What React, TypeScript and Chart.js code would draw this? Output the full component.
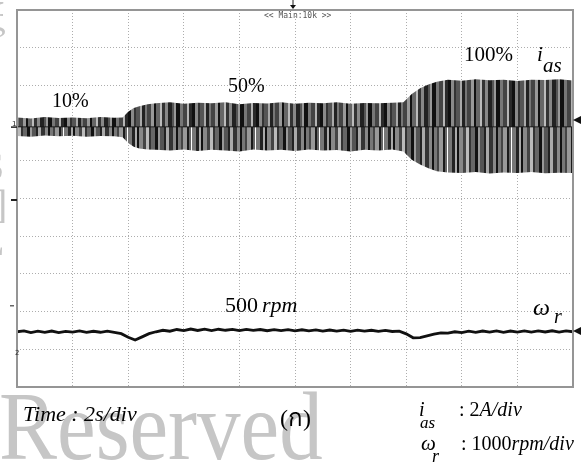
import React, { useEffect, useRef } from 'react';
import { Chart, registerables } from 'chart.js';

Chart.register(...registerables);

// ---- data ----
// time axis: 2 s/div, 10 divisions
const TIME_S = [
  0, 0.5, 1, 1.5, 2, 2.5, 3, 3.5, 3.8, 4.0, 4.2, 4.4, 4.7, 5.0,
  5.5, 6, 6.5, 7, 7.5, 8, 8.5, 9, 9.5, 10, 10.5, 11, 11.5, 12, 12.5, 13, 13.5,
  13.9, 14.2, 14.5, 14.8, 15.1, 15.5,
  16, 16.5, 17, 17.5, 18, 18.5, 19, 19.5, 20,
];
// phase current i_as envelope (A), 2 A/div
const IAS_UPPER_A = [
  0.5, 0.45, 0.52, 0.47, 0.5, 0.46, 0.52, 0.48, 0.5, 0.8, 1.0, 1.1, 1.2, 1.25,
  1.3, 1.22, 1.28, 1.25, 1.3, 1.2, 1.27, 1.24, 1.3, 1.22, 1.28, 1.25, 1.3, 1.23, 1.27, 1.25, 1.28,
  1.3, 1.75, 2.05, 2.25, 2.4, 2.5,
  2.45, 2.52, 2.47, 2.5, 2.44, 2.5, 2.48, 2.52, 2.46,
];
const IAS_LOWER_A = [
  -0.48, -0.52, -0.46, -0.5, -0.47, -0.53, -0.48, -0.5, -0.55, -0.85, -1.05, -1.15, -1.2, -1.22,
  -1.25, -1.2, -1.28, -1.22, -1.25, -1.3, -1.2, -1.25, -1.22, -1.28, -1.2, -1.26, -1.23, -1.3, -1.22, -1.25, -1.2,
  -1.3, -1.75, -2.0, -2.2, -2.35, -2.42,
  -2.45, -2.4, -2.47, -2.42, -2.45, -2.4, -2.46, -2.43, -2.45,
];
// rotor speed ω_r (rpm), 1000 rpm/div
const SPEED_TIME_S = [
  0, 0.25, 0.5, 0.75, 1, 1.25, 1.5, 1.75, 2, 2.25, 2.5, 2.75, 3, 3.25, 3.5, 3.75,
  4, 4.25, 4.5, 4.75, 5, 5.25, 5.5, 5.75, 6, 6.25, 6.5, 6.75, 7, 7.25, 7.5, 7.75,
  8, 8.25, 8.5, 8.75, 9, 9.25, 9.5, 9.75, 10, 10.25, 10.5, 10.75, 11, 11.25, 11.5, 11.75,
  12, 12.25, 12.5, 12.75, 13, 13.25, 13.5, 13.75, 14, 14.25, 14.5, 14.75, 15, 15.25, 15.5, 15.75,
  16, 16.25, 16.5, 16.75, 17, 17.25, 17.5, 17.75, 18, 18.25, 18.5, 18.75, 19, 19.25, 19.5, 19.75, 20,
];
const SPEED_RPM = [
  505, 530, 485, 520, 490, 525, 482, 515, 498, 528, 488, 518, 492, 522, 490, 455,
  360, 285, 370, 455, 505, 545, 520, 565, 535, 578, 540, 575, 538, 572, 545, 570,
  535, 568, 540, 565, 532, 562, 535, 560, 528, 558, 530, 555, 522, 552, 525, 550,
  518, 548, 520, 545, 515, 540, 512, 520, 450, 345, 350, 395, 440, 478, 470, 505,
  485, 520, 490, 525, 495, 528, 492, 525, 498, 530, 495, 528, 500, 532, 498, 530, 505,
];

// scope settings
const DIVS = 10;
const SEC_PER_DIV = 2;
const CH1_A_PER_DIV = 2;
const CH1_GROUND_DIV = 6.9; // divisions above the bottom of the screen
const CH2_RPM_PER_DIV = 1000;
const CH2_GROUND_DIV = 0.96;

const SERIF = '"Liberation Serif", "Times New Roman", serif';
const R = (s: number) => `${s}px ${SERIF}`;
const I = (s: number) => `italic ${s}px ${SERIF}`;

const W = 581;
const H = 463;

function runs(ctx: CanvasRenderingContext2D, x: number, y: number, parts: [string, string][]) {
  let cx = x;
  for (const [t, f] of parts) {
    ctx.font = f;
    ctx.fillText(t, cx, y);
    cx += ctx.measureText(t).width;
  }
}

function makePattern(splitY: number): CanvasPattern | string {
  const topStripes: [number, string][] = [
    [3, '#111'], [3, '#8a8a8a'], [2, '#333'], [4, '#555'], [2, '#aaa'], [3, '#222'], [2, '#777'], [4, '#444'],
    [3, '#999'], [2, '#111'], [4, '#666'], [2, '#bbb'], [3, '#333'], [3, '#888'], [4, '#222'], [2, '#555'],
    [2, '#999'], [4, '#111'], [3, '#777'], [4, '#444'], [2, '#b5b5b5'], [3, '#2a2a2a'],
  ];
  const botStripes: [number, string][] = [
    [4, '#777'], [3, '#222'], [2, '#aaa'], [2, '#111'], [4, '#888'], [3, '#444'], [3, '#bbb'], [2, '#333'],
    [4, '#666'], [3, '#111'], [2, '#999'], [4, '#555'], [2, '#222'], [3, '#aaa'], [4, '#333'], [3, '#888'],
    [2, '#111'], [3, '#777'], [2, '#444'], [4, '#999'], [2, '#1a1a1a'], [2, '#666'],
  ];
  const pw = topStripes.reduce((s, p) => s + p[0], 0);
  const c = document.createElement('canvas');
  c.width = pw;
  c.height = H;
  const g = c.getContext('2d');
  if (!g) return '#555';
  let x = 0;
  for (const [w, col] of topStripes) {
    g.fillStyle = col;
    g.fillRect(x, 0, w, splitY);
    x += w;
  }
  x = 0;
  for (const [w, col] of botStripes) {
    g.fillStyle = col;
    g.fillRect(x, splitY, w, H - splitY);
    x += w;
  }
  g.fillStyle = 'rgba(20,20,20,0.6)';
  g.fillRect(0, splitY - 1, pw, 1.5);
  const p = g.createPattern(c, 'repeat');
  return p || '#555';
}

export default function App() {
  const ref = useRef<HTMLCanvasElement | null>(null);

  useEffect(() => {
    const canvas = ref.current;
    if (!canvas) return;
    const area = { left: 17, top: 10, right: 573, bottom: 387 };
    const pxPerDiv = (area.bottom - area.top) / DIVS;
    const splitY = Math.round(area.bottom - CH1_GROUND_DIV * pxPerDiv);
    const pattern = makePattern(splitY);

    const upper = TIME_S.map((t, i) => ({ x: t, y: IAS_UPPER_A[i] }));
    const lower = TIME_S.map((t, i) => ({ x: t, y: IAS_LOWER_A[i] }));
    const speed = SPEED_TIME_S.map((t, i) => ({ x: t, y: SPEED_RPM[i] }));

    const decor = {
      id: 'scopeDecor',
      beforeDraw(chart: any) {
        const ctx = chart.ctx as CanvasRenderingContext2D;
        ctx.save();
        ctx.fillStyle = '#fff';
        ctx.fillRect(0, 0, W, H);
        // watermark
        ctx.fillStyle = '#c6c6c6';
        ctx.translate(0, 459);
        ctx.scale(1, 1.12);
        ctx.font = R(87);
        ctx.textBaseline = 'alphabetic';
        ctx.fillText('Reserved', -1, 0);
        ctx.restore();
        ctx.save();
        ctx.fillStyle = '#c6c6c6';
        ctx.font = R(40);
        ctx.fillText('ξ', -12, 30);
        ctx.fillText('S', -18, 180);
        ctx.fillText(']', -6, 218);
        ctx.fillText('L', -20, 255);
        ctx.restore();
      },
      afterDraw(chart: any) {
        const ctx = chart.ctx as CanvasRenderingContext2D;
        const ca = chart.chartArea;
        ctx.save();
        // frame
        ctx.strokeStyle = '#959595';
        ctx.lineWidth = 2;
        ctx.strokeRect(ca.left, ca.top, ca.right - ca.left, ca.bottom - ca.top);

        // scope markers
        ctx.fillStyle = '#111';
        ctx.strokeStyle = '#222';
        ctx.lineWidth = 1;
        ctx.beginPath();
        ctx.moveTo(293, 0);
        ctx.lineTo(293, 8);
        ctx.stroke();
        ctx.beginPath();
        ctx.moveTo(290, 5);
        ctx.lineTo(296, 5);
        ctx.lineTo(293, 9);
        ctx.closePath();
        ctx.fill();
        ctx.font = '8px "DejaVu Sans Mono", monospace';
        ctx.fillStyle = '#555';
        ctx.fillText('<< Main:10k >>', 264, 18);

        const ch1Y = ca.bottom - CH1_GROUND_DIV * pxPerDiv;
        const ch2Y = ca.bottom - CH2_GROUND_DIV * pxPerDiv;
        ctx.fillStyle = '#222';
        ctx.fillRect(11, ch1Y - 0.5, 6, 1.5);
        ctx.font = '7px "DejaVu Sans", sans-serif';
        ctx.fillText('1', 12, ch1Y - 1);
        ctx.fillRect(11, 199, 6, 2);
        ctx.fillStyle = '#666';
        ctx.fillRect(10, 305, 4, 1.5);
        ctx.fillStyle = '#333';
        ctx.fillText('2', 15, ch2Y + 4);
        // right-hand level markers
        ctx.fillStyle = '#111';
        for (const yy of [120, 331]) {
          ctx.beginPath();
          ctx.moveTo(573, yy);
          ctx.lineTo(581, yy - 4);
          ctx.lineTo(581, yy + 4);
          ctx.closePath();
          ctx.fill();
        }

        // annotations
        ctx.fillStyle = '#000';
        ctx.textBaseline = 'alphabetic';
        runs(ctx, 52, 107, [['10%', R(20)]]);
        runs(ctx, 228, 92, [['50%', R(20)]]);
        runs(ctx, 464, 61, [['100%', R(21)]]);
        runs(ctx, 537, 61, [['i', I(21)]]);
        runs(ctx, 543, 72, [['as', I(21)]]);
        runs(ctx, 225, 312, [['500', R(22)]]);
        runs(ctx, 262, 312, [['rpm', I(22)]]);
        runs(ctx, 533, 315, [['ω', I(24)]]);
        runs(ctx, 554, 323, [['r', I(20)]]);

        runs(ctx, 23, 421, [['Time : 2s/div', I(22)]]);
        runs(ctx, 280, 426, [['(ก)', `24px ${SERIF}, "Noto Sans", "DejaVu Sans", sans-serif`]]);

        runs(ctx, 419, 416, [['i', I(20)]]);
        runs(ctx, 420, 428, [['as', I(17)]]);
        runs(ctx, 459, 416, [[': ', R(20)], ['2', R(20)], ['A/div', I(20)]]);
        runs(ctx, 421, 450, [['ω', I(21)]]);
        runs(ctx, 432, 462, [['r', I(18)]]);
        runs(ctx, 461, 450, [[': ', R(20)], ['1000', R(20)], ['rpm/div', I(20)]]);
        ctx.restore();
      },
    };

    const gridStyle = {
      display: true,
      drawTicks: false,
      color: '#adadad',
      lineWidth: 1,
    };

    const chart = new Chart(canvas, {
      type: 'line',
      data: {
        datasets: [
          {
            label: 'i_as upper',
            data: upper,
            xAxisID: 'x',
            yAxisID: 'yI',
            borderColor: 'transparent',
            borderWidth: 0,
            backgroundColor: pattern as any,
            fill: '+1',
            pointRadius: 0,
            tension: 0,
          },
          {
            label: 'i_as lower',
            data: lower,
            xAxisID: 'x',
            yAxisID: 'yI',
            borderColor: 'transparent',
            borderWidth: 0,
            fill: false,
            pointRadius: 0,
            tension: 0,
          },
          {
            label: 'ω_r',
            data: speed,
            xAxisID: 'x',
            yAxisID: 'yS',
            borderColor: '#111',
            borderWidth: 2.8,
            fill: false,
            pointRadius: 0,
            tension: 0,
          },
        ],
      },
      options: {
        animation: false,
        responsive: false,
        devicePixelRatio: 1,
        layout: { padding: { left: area.left, top: area.top, right: W - area.right, bottom: H - area.bottom } },
        plugins: {
          legend: { display: false },
          tooltip: { enabled: false },
          title: { display: false },
        },
        scales: {
          x: {
            type: 'linear',
            min: 0,
            max: DIVS * SEC_PER_DIV,
            ticks: { display: false, stepSize: SEC_PER_DIV },
            grid: gridStyle,
            border: { display: false, dash: [1, 2] },
          },
          yGrid: {
            type: 'linear',
            position: 'left',
            min: 0,
            max: DIVS,
            ticks: { display: false, stepSize: 1 },
            grid: gridStyle,
            border: { display: false, dash: [1, 2] },
          },
          yI: {
            type: 'linear',
            display: false,
            min: -CH1_GROUND_DIV * CH1_A_PER_DIV,
            max: (DIVS - CH1_GROUND_DIV) * CH1_A_PER_DIV,
          },
          yS: {
            type: 'linear',
            display: false,
            min: -CH2_GROUND_DIV * CH2_RPM_PER_DIV,
            max: (DIVS - CH2_GROUND_DIV) * CH2_RPM_PER_DIV,
          },
        },
      } as any,
      plugins: [decor],
    });

    return () => chart.destroy();
  }, []);

  return (
    <div style={{ position: 'fixed', left: 0, top: 0, width: W, height: H, background: '#fff' }}>
      <canvas ref={ref} width={W} height={H} style={{ display: 'block', width: W, height: H }} />
    </div>
  );
}
